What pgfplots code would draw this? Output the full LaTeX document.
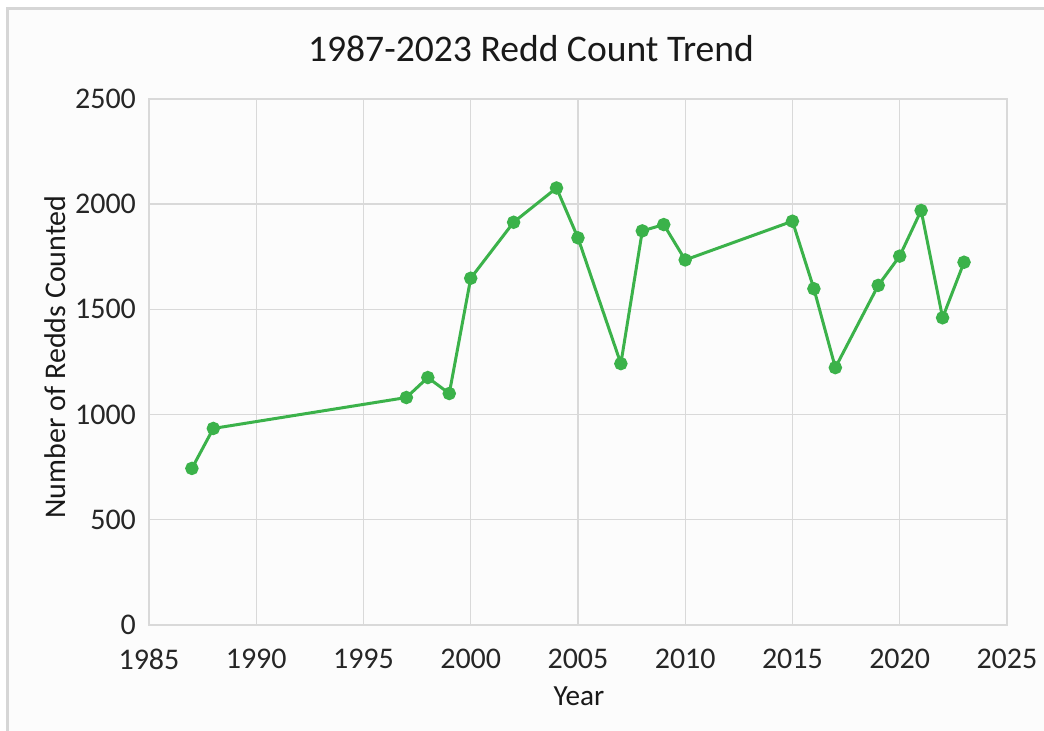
\documentclass[border=0pt]{standalone}
\usepackage{pgfplots}
\pgfplotsset{compat=1.18}
\usepackage{fontspec}
\setmainfont{Carlito}
\definecolor{linegreen}{RGB}{59,178,74}
\definecolor{gridgray}{RGB}{217,217,217}
\definecolor{framegray}{RGB}{214,214,214}
\begin{document}
\begin{tikzpicture}
\begin{scope}[x=0.5pt,y=0.5pt]
\path[use as bounding box] (0,0) rectangle (1044,731);
\fill[white!99!black] (7,0) rectangle (1044,723);
\draw[framegray,line width=1.2pt] (7.5,0) -- (7.5,722.5) -- (1044,722.5);
\node[font=\fontsize{18.8}{22}\selectfont, text=black!90] at (531,682) {1987-2023 Redd Count Trend};
\node[font=\fontsize{15}{18}\selectfont, text=black!90, rotate=90] at (55,374) {Number of Redds Counted};
\node[font=\fontsize{14.6}{18}\selectfont, text=black!90] at (579,35) {Year};
\end{scope}
\begin{axis}[
  at={(74.5pt,53pt)}, anchor=south west,
  scale only axis,
  width=429pt, height=263pt,
  xmin=1985, xmax=2025, ymin=0, ymax=2500,
  xtick={1985,1990,...,2025}, ytick={0,500,...,2500},
  xticklabel style={/pgf/number format/1000 sep={}},
  yticklabel style={/pgf/number format/1000 sep={}},
  /pgf/number format/assume math mode=true,
  tick label style={font=\fontsize{15}{18}\selectfont, text=black!85},
  xticklabel style={yshift=-8.5pt},
  yticklabel style={xshift=-3pt},
  major tick length=0pt,
  grid=major,
  grid style={gridgray, line width=0.7pt},
  axis line style={gridgray, line width=0.7pt},
  clip=false,
]
\addplot[linegreen, line width=1.5pt, mark=*, mark size=2.6pt,
  mark options={fill=linegreen, draw=linegreen}] coordinates {
(1987,744) (1988,934) (1997,1081) (1998,1176) (1999,1100) (2000,1648)
(2002,1914) (2004,2077) (2005,1840) (2007,1242) (2008,1873) (2009,1903)
(2010,1735) (2015,1919) (2016,1598) (2017,1223) (2019,1614) (2020,1753)
(2021,1970) (2022,1460) (2023,1724)
};
\end{axis}
\end{tikzpicture}
\end{document}
